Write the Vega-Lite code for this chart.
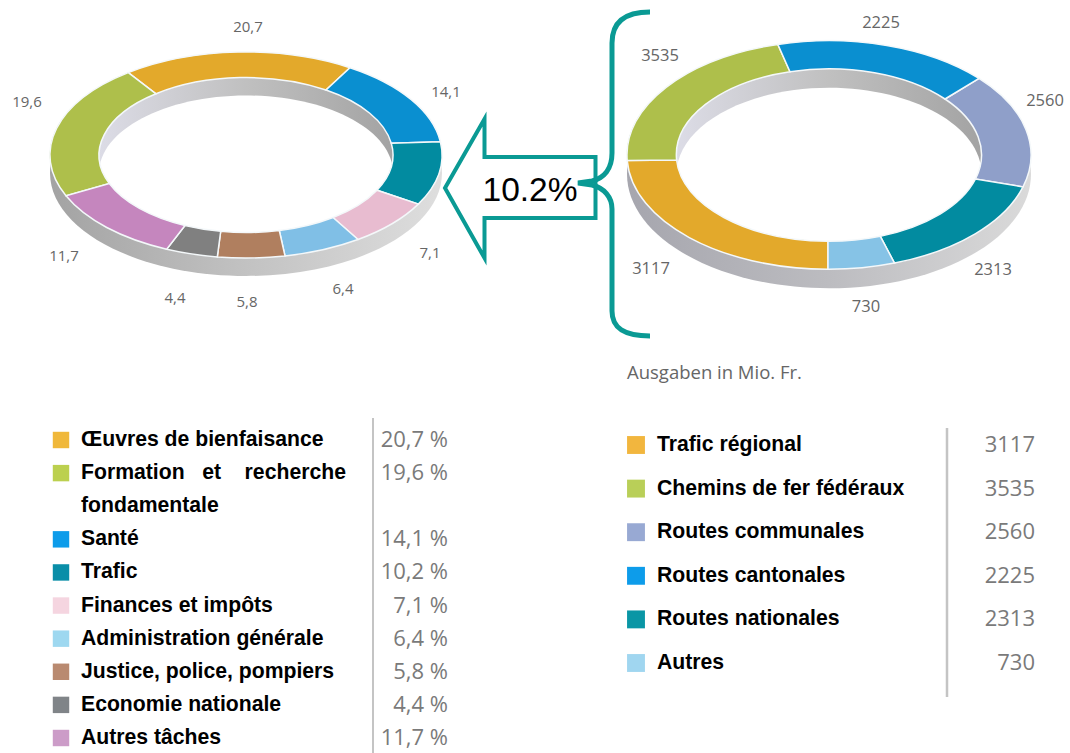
{
"$schema":"https://vega.github.io/schema/vega-lite/v6.json",
"width":1070,"height":753,"padding":0,"autosize":{"type":"fit","contains":"padding"},"background":"#ffffff",
"config":{"view":{"stroke":null},
 "point":{"filled":true,"size":4,"opacity":1},
 "text":{"font":"Open Sans","fontSize":15,"color":"#666666","align":"center","baseline":"middle"}},
"data":{"values":[{"role":"annotation"}]},
"datasets":{
 "budget":[
  {"name":"Œuvres de bienfaisance","share":20.7,"label":"20,7","cell":"20,7 %"},
  {"name":"Formation et recherche","share":19.6,"label":"19,6","cell":"19,6 %"},
  {"name":"Santé","share":14.1,"label":"14,1","cell":"14,1 %"},
  {"name":"Trafic","share":10.2,"label":"10,2","cell":"10,2 %"},
  {"name":"Finances et impôts","share":7.1,"label":"7,1","cell":"7,1 %"},
  {"name":"Administration générale","share":6.4,"label":"6,4","cell":"6,4 %"},
  {"name":"Justice, police, pompiers","share":5.8,"label":"5,8","cell":"5,8 %"},
  {"name":"Economie nationale","share":4.4,"label":"4,4","cell":"4,4 %"},
  {"name":"Autres tâches","share":11.7,"label":"11,7","cell":"11,7 %"}],
 "budgetLines":[
  {"name":"Formation et recherche","line":"Formation\u00a0\u00a0\u00a0et\u00a0\u00a0\u00a0\u00a0recherche"},
  {"name":"fondamentale","line":"fondamentale"}],
 "transport":[
  {"name":"Trafic régional","amount":3117},
  {"name":"Chemins de fer fédéraux","amount":3535},
  {"name":"Routes communales","amount":2560},
  {"name":"Routes cantonales","amount":2225},
  {"name":"Routes nationales","amount":2313},
  {"name":"Autres","amount":730}]
},
"resolve":{"scale":{"y":"independent","color":"independent","shape":"independent"}},
"layer":[
{"resolve":{"scale":{"color":"independent","shape":"independent"}},
 "layer":[
 {"mark":{"type":"point","shape":"M -196 0 A 196 103 0 1 1 196 0 A 196 103 0 1 1 -196 0 Z","fill":{"gradient":"linear","x1":0,"y1":0,"x2":1,"y2":0,"stops":[{"offset":0,"color":"#a3a3a3"},{"offset":0.5,"color":"#c2c2c2"},{"offset":1,"color":"#dedede"}]}},
  "encoding":{"x":{"datum":246,"axis":null,"scale":{"domain":[0,1070],"range":[0,1070],"nice":false,"zero":false}},"y":{"datum":173,"axis":null,"scale":{"domain":[0,753],"range":[0,753],"nice":false,"zero":false}}}},
 {"mark":{"type":"point","shape":"M -147 0 A 147 77.5 0 1 1 147 0 A 147 77.5 0 1 1 -147 0 Z","fill":{"gradient":"linear","x1":0,"y1":0,"x2":1,"y2":0,"stops":[{"offset":0,"color":"#dcdce6"},{"offset":0.5,"color":"#c0c0c0"},{"offset":1,"color":"#a3a3a3"}]}},
  "encoding":{"x":{"datum":246},"y":{"datum":155}}},
 {"mark":{"type":"point","shape":"M -147 0 A 147 77.5 0 1 1 147 0 A 147 77.5 0 1 1 -147 0 Z","fill":"#ffffff"},
  "encoding":{"x":{"datum":246},"y":{"datum":173}}},
 {"mark":{"type":"point","shape":"M -202 0 A 202 114.3 0 1 1 202 0 A 202 114.3 0 1 1 -202 0 Z","fill":{"gradient":"linear","x1":0,"y1":0,"x2":1,"y2":0,"stops":[{"offset":0,"color":"#a6a6ae"},{"offset":0.5,"color":"#bcbcc0"},{"offset":1,"color":"#dadada"}]}},
  "encoding":{"x":{"datum":829},"y":{"datum":174}}},
 {"mark":{"type":"point","shape":"M -152.5 0 A 152.5 86.2 0 1 1 152.5 0 A 152.5 86.2 0 1 1 -152.5 0 Z","fill":{"gradient":"linear","x1":0,"y1":0,"x2":1,"y2":0,"stops":[{"offset":0,"color":"#dcdce6"},{"offset":0.5,"color":"#c0c0c0"},{"offset":1,"color":"#a3a3a3"}]}},
  "encoding":{"x":{"datum":829},"y":{"datum":155}}},
 {"mark":{"type":"point","shape":"M -152.5 0 A 152.5 86.2 0 1 1 152.5 0 A 152.5 86.2 0 1 1 -152.5 0 Z","fill":"#ffffff"},
  "encoding":{"x":{"datum":829},"y":{"datum":174}}},
 {"data":{"name":"budget"},"mark":{"type":"point","stroke":"#f4f8fa","strokeWidth":1.5},
  "encoding":{"x":{"datum":246},"y":{"datum":155},
   "color":{"field":"name","type":"nominal","legend":null,"scale":{"domain":["Œuvres de bienfaisance","Santé","Trafic","Finances et impôts","Administration générale","Justice, police, pompiers","Economie nationale","Autres tâches","Formation et recherche"],"range":["#e3a92b","#0a8fd0","#028ba0","#e8bcd0","#80bfe6","#b07f5f","#808080","#c586be","#aebf4b"]}},
   "shape":{"field":"name","type":"nominal","legend":null,"scale":{"domain":["Œuvres de bienfaisance","Santé","Trafic","Finances et impôts","Administration générale","Justice, police, pompiers","Economie nationale","Autres tâches","Formation et recherche"],"range":[
    "M -117.7 -82.4 A 196 103 0 0 1 104 -87.3 L 80 -65 A 147 77.5 0 0 0 -90 -61.2 Z",
    "M 104 -87.3 A 196 103 0 0 1 194.4 -13.3 L 145.3 -11.7 A 147 77.5 0 0 0 80 -65 Z",
    "M 194.4 -13.3 A 196 103 0 0 1 172.3 49.1 L 131 35.2 A 147 77.5 0 0 0 145.3 -11.7 Z",
    "M 172.3 49.1 A 196 103 0 0 1 112 84.5 L 87 62.5 A 147 77.5 0 0 0 131 35.2 Z",
    "M 112 84.5 A 196 103 0 0 1 39 100.9 L 33.3 75.5 A 147 77.5 0 0 0 87 62.5 Z",
    "M 39 100.9 A 196 103 0 0 1 -28.7 101.9 L -25.3 76.3 A 147 77.5 0 0 0 33.3 75.5 Z",
    "M -28.7 101.9 A 196 103 0 0 1 -79.3 94.2 L -61 70.5 A 147 77.5 0 0 0 -25.3 76.3 Z",
    "M -79.3 94.2 A 196 103 0 0 1 -180 40.8 L -136.7 28.5 A 147 77.5 0 0 0 -61 70.5 Z",
    "M -180 40.8 A 196 103 0 0 1 -117.7 -82.4 L -90 -61.2 A 147 77.5 0 0 0 -136.7 28.5 Z"]}}}},
 {"data":{"name":"transport"},"mark":{"type":"point","stroke":"#f4f8fa","strokeWidth":1.5},
  "encoding":{"x":{"datum":829},"y":{"datum":155},
   "color":{"field":"name","type":"nominal","legend":null,"scale":{"domain":["Routes cantonales","Routes communales","Routes nationales","Autres","Trafic régional","Chemins de fer fédéraux"],"range":["#0a8fd0","#8f9fc9","#028ba0","#86c3e6","#e3a92b","#aebf4b"]}},
   "shape":{"field":"name","type":"nominal","legend":null,"scale":{"domain":["Routes cantonales","Routes communales","Routes nationales","Autres","Trafic régional","Chemins de fer fédéraux"],"range":[
    "M -51.2 -110.6 A 202 114.3 0 0 1 150 -76.6 L 116 -56 A 152.5 86.2 0 0 0 -39 -83.3 Z",
    "M 150 -76.6 A 202 114.3 0 0 1 194 31.9 L 146.5 24 A 152.5 86.2 0 0 0 116 -56 Z",
    "M 194 31.9 A 202 114.3 0 0 1 65.5 108.1 L 51.2 81.2 A 152.5 86.2 0 0 0 146.5 24 Z",
    "M 65.5 108.1 A 202 114.3 0 0 1 -1 114.3 L -1 86.2 A 152.5 86.2 0 0 0 51.2 81.2 Z",
    "M -1 114.3 A 202 114.3 0 0 1 -201.8 5.5 L -152.4 5 A 152.5 86.2 0 0 0 -1 86.2 Z",
    "M -201.8 5.5 A 202 114.3 0 0 1 -51.2 -110.6 L -39 -83.3 A 152.5 86.2 0 0 0 -152.4 5 Z"]}}}},
 {"data":{"name":"budget"},"transform":[{"filter":{"field":"label","equal":"20,7"}}],"mark":"text","encoding":{"x":{"datum":248},"y":{"datum":27},"text":{"field":"label"}}},
 {"data":{"name":"budget"},"transform":[{"filter":{"field":"label","equal":"14,1"}}],"mark":"text","encoding":{"x":{"datum":446},"y":{"datum":92},"text":{"field":"label"}}},
 {"data":{"name":"budget"},"transform":[{"filter":{"field":"label","equal":"7,1"}}],"mark":"text","encoding":{"x":{"datum":430},"y":{"datum":253},"text":{"field":"label"}}},
 {"data":{"name":"budget"},"transform":[{"filter":{"field":"label","equal":"6,4"}}],"mark":"text","encoding":{"x":{"datum":343},"y":{"datum":289},"text":{"field":"label"}}},
 {"data":{"name":"budget"},"transform":[{"filter":{"field":"label","equal":"5,8"}}],"mark":"text","encoding":{"x":{"datum":247},"y":{"datum":302},"text":{"field":"label"}}},
 {"data":{"name":"budget"},"transform":[{"filter":{"field":"label","equal":"4,4"}}],"mark":"text","encoding":{"x":{"datum":175},"y":{"datum":298},"text":{"field":"label"}}},
 {"data":{"name":"budget"},"transform":[{"filter":{"field":"label","equal":"11,7"}}],"mark":"text","encoding":{"x":{"datum":64},"y":{"datum":256},"text":{"field":"label"}}},
 {"data":{"name":"budget"},"transform":[{"filter":{"field":"label","equal":"19,6"}}],"mark":"text","encoding":{"x":{"datum":27},"y":{"datum":102},"text":{"field":"label"}}},
 {"data":{"name":"transport"},"transform":[{"filter":{"field":"amount","equal":2225}}],"mark":{"type":"text","fontSize":16.5},"encoding":{"x":{"datum":881},"y":{"datum":23},"text":{"field":"amount"}}},
 {"data":{"name":"transport"},"transform":[{"filter":{"field":"amount","equal":2560}}],"mark":{"type":"text","fontSize":16.5},"encoding":{"x":{"datum":1045},"y":{"datum":101},"text":{"field":"amount"}}},
 {"data":{"name":"transport"},"transform":[{"filter":{"field":"amount","equal":2313}}],"mark":{"type":"text","fontSize":16.5},"encoding":{"x":{"datum":993},"y":{"datum":270},"text":{"field":"amount"}}},
 {"data":{"name":"transport"},"transform":[{"filter":{"field":"amount","equal":730}}],"mark":{"type":"text","fontSize":16.5},"encoding":{"x":{"datum":866},"y":{"datum":307},"text":{"field":"amount"}}},
 {"data":{"name":"transport"},"transform":[{"filter":{"field":"amount","equal":3117}}],"mark":{"type":"text","fontSize":16.5},"encoding":{"x":{"datum":651},"y":{"datum":269},"text":{"field":"amount"}}},
 {"data":{"name":"transport"},"transform":[{"filter":{"field":"amount","equal":3535}}],"mark":{"type":"text","fontSize":16.5},"encoding":{"x":{"datum":660},"y":{"datum":56},"text":{"field":"amount"}}},
 {"mark":{"type":"text","text":"Ausgaben in Mio. Fr.","fontSize":18.5,"align":"left","color":"#666666"},"encoding":{"x":{"datum":627},"y":{"datum":373}}},
 {"mark":{"type":"point","filled":false,"shape":"M 0 0 L 39.5 -69 L 39.5 -31 L 150.5 -31 L 150.5 30 L 39.5 30 L 39.5 70 Z","stroke":"#0a9a94","strokeWidth":4,"strokeJoin":"miter"},"encoding":{"x":{"datum":445},"y":{"datum":188}}},
 {"mark":{"type":"point","filled":false,"shape":"M 38 -171 C 12 -171 0 -160 0 -140 L 0 -30 C 0 -14 -8 -5 -20 -2 L -34 0 L -20 2 C -8 5 0 14 0 26 L 0 128 C 0 145 12 153 38 153","stroke":"#0a9a94","strokeWidth":5},"encoding":{"x":{"datum":612},"y":{"datum":183}}},
 {"mark":{"type":"text","text":"10.2%","font":"Liberation Sans","fontSize":33.5,"color":"#000000"},"encoding":{"x":{"datum":530},"y":{"datum":191}}},
 {"mark":{"type":"rule","color":"#c4c4c4","strokeWidth":2},"encoding":{"x":{"datum":373},"y":{"datum":418},"y2":{"datum":753}}},
 {"mark":{"type":"rule","color":"#c4c4c4","strokeWidth":2.5},"encoding":{"x":{"datum":947},"y":{"datum":428},"y2":{"datum":697}}}
 ]},
{"layer":[
 {"data":{"name":"budget"},"mark":{"type":"point","shape":"square","size":270},
  "encoding":{"x":{"datum":61},
   "y":{"field":"name","type":"nominal","axis":null,"scale":{"type":"point","padding":0,"domain":["Œuvres de bienfaisance","Formation et recherche","fondamentale","Santé","Trafic","Finances et impôts","Administration générale","Justice, police, pompiers","Economie nationale","Autres tâches"],"range":[440,738]}},
   "color":{"field":"name","type":"nominal","legend":null,"scale":{"domain":["Œuvres de bienfaisance","Formation et recherche","Santé","Trafic","Finances et impôts","Administration générale","Justice, police, pompiers","Economie nationale","Autres tâches"],"range":["#f0b83a","#bcd04f","#0d9cea","#0a8ea8","#f5d5e0","#9ed8f0","#b98a70","#808488","#cc9cc8"]}}}},
 {"data":{"name":"budget"},"transform":[{"filter":"datum.name !== 'Formation et recherche'"}],"mark":{"type":"text","font":"Liberation Sans","fontWeight":"bold","fontSize":21.2,"color":"#000000","align":"left"},
  "encoding":{"x":{"datum":81},"y":{"field":"name","type":"nominal"},"text":{"field":"name"}}},
 {"data":{"name":"budgetLines"},"mark":{"type":"text","font":"Liberation Sans","fontWeight":"bold","fontSize":21.2,"color":"#000000","align":"left"},
  "encoding":{"x":{"datum":81},"y":{"field":"name","type":"nominal"},"text":{"field":"line"}}},
 {"data":{"name":"budget"},"mark":{"type":"text","fontSize":22,"color":"#7a7a7a","align":"right"},
  "encoding":{"x":{"datum":448},"y":{"field":"name","type":"nominal"},"text":{"field":"cell"}}}
 ]},
{"layer":[
 {"data":{"name":"transport"},"mark":{"type":"point","shape":"square","size":320},
  "encoding":{"x":{"datum":636},
   "y":{"field":"name","type":"nominal","axis":null,"scale":{"type":"point","padding":0,"domain":["Trafic régional","Chemins de fer fédéraux","Routes communales","Routes cantonales","Routes nationales","Autres"],"range":[445,663]}},
   "color":{"field":"name","type":"nominal","legend":null,"scale":{"domain":["Trafic régional","Chemins de fer fédéraux","Routes communales","Routes cantonales","Routes nationales","Autres"],"range":["#f2b63e","#b9cf58","#98a9d3","#0d9cea","#0a96a5","#a0d6f0"]}}}},
 {"data":{"name":"transport"},"mark":{"type":"text","font":"Liberation Sans","fontWeight":"bold","fontSize":21.2,"color":"#000000","align":"left"},
  "encoding":{"x":{"datum":657},"y":{"field":"name","type":"nominal"},"text":{"field":"name"}}},
 {"data":{"name":"transport"},"mark":{"type":"text","fontSize":22,"color":"#7a7a7a","align":"right"},
  "encoding":{"x":{"datum":1035},"y":{"field":"name","type":"nominal"},"text":{"field":"amount"}}}
 ]}
]}
